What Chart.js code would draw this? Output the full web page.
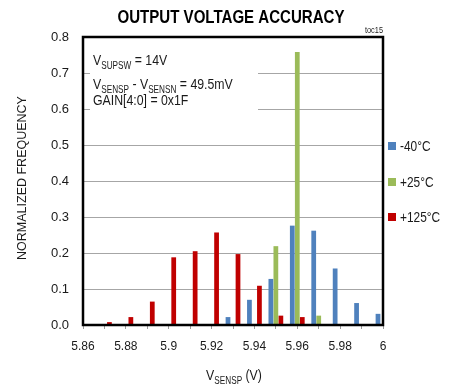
<!DOCTYPE html>
<html>
<head>
<meta charset="utf-8">
<script src="https://cdn.jsdelivr.net/npm/chart.js@4.4.1/dist/chart.umd.min.js"></script>
<style>
html,body{margin:0;padding:0;background:#fff;}
#wrap{width:458px;height:387px;position:relative;}
</style>
</head>
<body>
<div id="wrap"><canvas id="c" width="458" height="387"></canvas></div>
<script>
// ---- data ----
const categories = ['5.86','5.87','5.88','5.89','5.90','5.91','5.92','5.93','5.94','5.95','5.96','5.97','5.98','5.99','6.00'];
const xTickLabels = ['5.86','','5.88','','5.9','','5.92','','5.94','','5.96','','5.98','','6'];
const yTickLabels = ['0.0','0.1','0.2','0.3','0.4','0.5','0.6','0.7','0.8'];
const seriesNames = ['-40°C','+25°C','+125°C'];
const seriesColors = ['#4f81bd','#9bbb59','#c00000'];
const coldValues = [0,0,0,0,0,0,0,0.022,0.070,0.128,0.276,0.262,0.157,0.061,0.031];
const roomValues = [0,0,0,0,0,0,0,0,0,0.219,0.758,0.026,0,0,0];
const hotValues  = [0,0.008,0.022,0.065,0.188,0.205,0.257,0.197,0.109,0.026,0.022,0,0,0,0];
const titleText = 'OUTPUT VOLTAGE ACCURACY';
const yTitleText = 'NORMALIZED FREQUENCY';
const noteText = 'toc15';

// ---- font detection ----
function hasFont(name){
  const c = document.createElement('canvas').getContext('2d');
  const s = 'mmmmmwwwwiiiilllAB0123';
  c.font = '20px monospace'; const a = c.measureText(s).width;
  c.font = '20px "' + name + '", monospace'; const b = c.measureText(s).width;
  return Math.abs(a - b) > 0.5;
}
const NARROW_OK = hasFont('Liberation Sans Narrow');
const HFAM = NARROW_OK ? '"Liberation Sans Narrow"' : '"Liberation Sans"';
const HSCALE = NARROW_OK ? 1 : 0.82;

// draw runs of text (with optional subscript) at x, baseline y
function drawRuns(ctx, runs, x, y, size, subSize, align){
  ctx.save();
  ctx.textBaseline = 'alphabetic';
  ctx.textAlign = 'left';
  let total = 0;
  runs.forEach(r => { ctx.font = (r.sub ? subSize : size) + 'px ' + HFAM; total += ctx.measureText(r.t).width * HSCALE; });
  let cx = x;
  if (align === 'center') cx = x - total / 2;
  runs.forEach(r => {
    const fs = r.sub ? subSize : size;
    ctx.font = fs + 'px ' + HFAM;
    const w = ctx.measureText(r.t).width;
    ctx.save();
    ctx.translate(cx, y + (r.sub ? 4 : 0));
    ctx.scale(HSCALE, 1);
    ctx.fillText(r.t, 0, 0);
    ctx.restore();
    cx += w * HSCALE;
  });
  ctx.restore();
}

const decorPlugin = {
  id: 'decor',
  beforeDatasetsDraw(chart){
    const ctx = chart.ctx;
    // annotation box
    ctx.save();
    ctx.fillStyle = '#ffffff';
    ctx.fillRect(90, 40, 168, 73);
    ctx.fillStyle = '#1a1a1a';
    drawRuns(ctx, [{t:'V'},{t:'SUPSW',sub:true},{t:' = 14V'}], 93, 65, 15, 10);
    drawRuns(ctx, [{t:'V'},{t:'SENSP',sub:true},{t:' - V'},{t:'SENSN',sub:true},{t:' = 49.5mV'}], 93, 89, 15, 10);
    drawRuns(ctx, [{t:'GAIN[4:0] = 0x1F'}], 93, 105, 15, 10);
    ctx.restore();
  },
  afterDraw(chart){
    const ctx = chart.ctx;
    const a = chart.chartArea;
    ctx.save();
    // frame
    ctx.strokeStyle = '#000';
    ctx.lineWidth = 2.5;
    ctx.strokeRect(a.left, a.top, a.right - a.left, a.bottom - a.top);
    // title
    ctx.fillStyle = '#000';
    ctx.font = 'bold 18px "Liberation Sans"';
    const tw = ctx.measureText(titleText).width;
    ctx.save();
    ctx.translate(231, 23);
    ctx.scale(227 / tw, 1);
    ctx.textAlign = 'center';
    ctx.fillText(titleText, 0, 0);
    ctx.restore();
    // toc label
    ctx.fillStyle = '#222';
    ctx.font = '9px ' + HFAM;
    ctx.save();
    ctx.translate(383, 33);
    ctx.scale(HSCALE, 1);
    ctx.textAlign = 'right';
    ctx.fillText(noteText, 0, 0);
    ctx.restore();
    // y title
    ctx.save();
    ctx.fillStyle = '#1a1a1a';
    ctx.translate(26, 178);
    ctx.rotate(-Math.PI / 2);
    ctx.font = '12.5px "Liberation Sans"';
    ctx.textAlign = 'center';
    ctx.textBaseline = 'alphabetic';
    ctx.fillText(yTitleText, 0, 0);
    ctx.restore();
    // x title
    ctx.fillStyle = '#1a1a1a';
    drawRuns(ctx, [{t:'V'},{t:'SENSP',sub:true},{t:' (V)'}], 234, 380, 15, 10, 'center');
    // legend
    const ys = [146, 182, 217];
    seriesNames.forEach((n, i) => {
      ctx.fillStyle = seriesColors[i];
      ctx.fillRect(388, ys[i] - 4, 8, 8);
      ctx.fillStyle = '#1a1a1a';
      drawRuns(ctx, [{t:n}], 400, ys[i] + 5, 14.5, 10);
    });
    ctx.restore();
  }
};

const tickFontSize = NARROW_OK ? 14.5 : 12;

new Chart(document.getElementById('c'), {
  type: 'bar',
  data: {
    labels: categories,
    datasets: [
      {label: seriesNames[0], data: coldValues, backgroundColor: seriesColors[0]},
      {label: seriesNames[1], data: roomValues, backgroundColor: seriesColors[1]},
      {label: seriesNames[2], data: hotValues, backgroundColor: seriesColors[2]}
    ]
  },
  options: {
    responsive: false,
    animation: false,
    devicePixelRatio: 1,
    layout: {padding: {left: 0, right: 75, top: 37, bottom: 0}},
    datasets: {bar: {categoryPercentage: 0.7, barPercentage: 0.95}},
    plugins: {legend: {display: false}, title: {display: false}, tooltip: {enabled: false}},
    scales: {
      x: {
        offset: false,
        grid: {display: true, drawOnChartArea: false, drawTicks: true, tickLength: 4, color: '#9a9a9a', offset: false},
        border: {display: false},
        ticks: {
          autoSkip: false, maxRotation: 0, minRotation: 0, padding: 10,
          color: '#1a1a1a',
          font: {family: HFAM.replace(/"/g,''), size: tickFontSize},
          callback: (v, i) => xTickLabels[i]
        },
        afterFit: s => { s.height = 62; }
      },
      y: {
        min: 0, max: 0.8,
        grid: {color: '#a6a6a6', lineWidth: 1, drawTicks: false},
        border: {display: false},
        ticks: {
          stepSize: 0.1, padding: 14, color: '#1a1a1a',
          font: {family: HFAM.replace(/"/g,''), size: NARROW_OK ? 15 : 13},
          callback: (v, i) => yTickLabels[i]
        },
        afterFit: s => { s.width = 83; }
      }
    }
  },
  plugins: [decorPlugin]
});
</script>
</body>
</html>
